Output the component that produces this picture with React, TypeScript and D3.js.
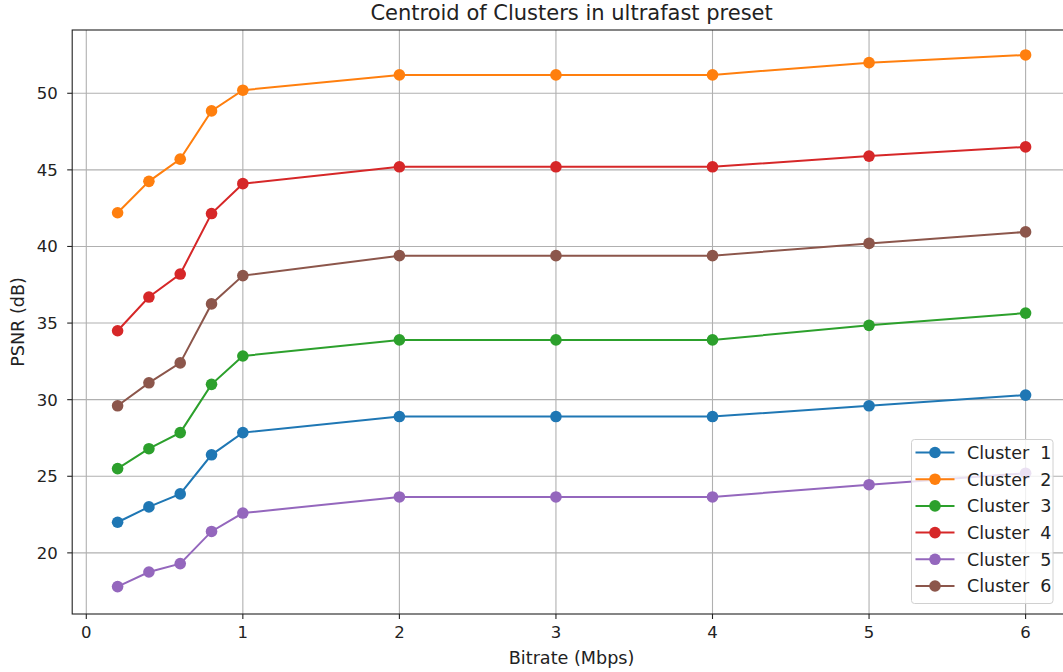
import React from "react";
import * as d3 from "d3";

const bitrates = [0.2, 0.4, 0.6, 0.8, 1, 2, 3, 4, 5, 6];
const seriesNames = ["Cluster  1", "Cluster  2", "Cluster  3", "Cluster  4", "Cluster  5", "Cluster  6"];
const cluster1 = [22.0, 23.0, 23.85, 26.4, 27.85, 28.9, 28.9, 28.9, 29.6, 30.3];
const cluster2 = [42.2, 44.25, 45.7, 48.85, 50.2, 51.2, 51.2, 51.2, 52.0, 52.5];
const cluster3 = [25.5, 26.8, 27.85, 31.0, 32.85, 33.9, 33.9, 33.9, 34.85, 35.65];
const cluster4 = [34.5, 36.7, 38.2, 42.15, 44.1, 45.2, 45.2, 45.2, 45.9, 46.5];
const cluster5 = [17.8, 18.75, 19.3, 21.4, 22.6, 23.65, 23.65, 23.65, 24.45, 25.2];
const cluster6 = [29.6, 31.1, 32.4, 36.25, 38.1, 39.4, 39.4, 39.4, 40.2, 40.95];
const colors = ["#1f77b4", "#ff7f0e", "#2ca02c", "#d62728", "#9467bd", "#8c564b"];
const xTicks = [0, 1, 2, 3, 4, 5, 6];
const yTicks = [20, 25, 30, 35, 40, 45, 50];

const W = 1063;
const H = 672;
const left = 72.2;
const right = 1071;
const top = 30;
const bottom = 614;
const FONT = "DejaVu Sans, sans-serif";

export default function App() {
  const allSeries = [cluster1, cluster2, cluster3, cluster4, cluster5, cluster6];
  const x = d3.scaleLinear().domain([-0.09, 6.29]).range([left, right]);
  const y = d3.scaleLinear().domain([16.01, 54.13]).range([bottom, top]);
  const line = d3
    .line<number>()
    .x((_, i) => x(bitrates[i]))
    .y((d) => y(d));

  const legX = 911.5;
  const legY = 439.5;
  const legW = 141.5;
  const legH = 164;
  const rowH = 26.7;

  return (
    <svg
      width={W}
      height={H}
      style={{ position: "absolute", left: 0, top: 0, background: "#fff" }}
      fontFamily={FONT}
    >
      <defs>
        <clipPath id="plotclip">
          <rect x={left} y={top} width={right - left} height={bottom - top} />
        </clipPath>
      </defs>
      <rect x={0} y={0} width={W} height={H} fill="#fff" />
      {/* grid */}
      {xTicks.map((t) => (
        <line key={"gx" + t} x1={x(t)} x2={x(t)} y1={top} y2={bottom} stroke="#b0b0b0" strokeWidth={1.1} />
      ))}
      {yTicks.map((t) => (
        <line key={"gy" + t} x1={left} x2={right} y1={y(t)} y2={y(t)} stroke="#b0b0b0" strokeWidth={1.1} />
      ))}
      {/* series */}
      <g clipPath="url(#plotclip)">
        {allSeries.map((s, si) => (
          <g key={"s" + si}>
            <path d={line(s) || ""} fill="none" stroke={colors[si]} strokeWidth={2} />
            {s.map((v, i) => (
              <circle key={i} cx={x(bitrates[i])} cy={y(v)} r={5.8} fill={colors[si]} />
            ))}
          </g>
        ))}
      </g>
      {/* spines */}
      <rect x={left} y={top} width={right - left} height={bottom - top} fill="none" stroke="#222" strokeWidth={1.1} />
      {/* ticks */}
      {xTicks.map((t) => (
        <g key={"tx" + t}>
          <line x1={x(t)} x2={x(t)} y1={bottom} y2={bottom + 5} stroke="#222" strokeWidth={1.1} />
          <text x={x(t)} y={632.5} dy="0.36em" textAnchor="middle" fontSize={16.5} fill="#222">
            {t}
          </text>
        </g>
      ))}
      {yTicks.map((t) => (
        <g key={"ty" + t}>
          <line x1={left - 5} x2={left} y1={y(t)} y2={y(t)} stroke="#222" strokeWidth={1.1} />
          <text x={left - 14.5} y={y(t)} dy="0.36em" textAnchor="end" fontSize={16.5} fill="#222">
            {t}
          </text>
        </g>
      ))}
      {/* labels */}
      <text x={(left + right) / 2} y={12} dy="0.36em" textAnchor="middle" fontSize={21} fill="#222">
        Centroid of Clusters in ultrafast preset
      </text>
      <text x={(left + right) / 2} y={658} dy="0.36em" textAnchor="middle" fontSize={17.6} fill="#222">
        Bitrate (Mbps)
      </text>
      <text
        transform={`translate(18,${(top + bottom) / 2}) rotate(-90)`}
        dy="0.36em"
        textAnchor="middle"
        fontSize={17.6}
        fill="#222"
      >
        PSNR (dB)
      </text>
      {/* legend */}
      <rect x={legX} y={legY} width={legW} height={legH} rx={3} fill="#fff" fillOpacity={0.8} stroke="#d0d0d0" strokeWidth={1} />
      {seriesNames.map((n, i) => {
        const cy = legY + 13 + i * rowH;
        return (
          <g key={"l" + i}>
            <line x1={legX + 4} x2={legX + 43} y1={cy} y2={cy} stroke={colors[i]} strokeWidth={2} />
            <circle cx={legX + 23.5} cy={cy} r={5.8} fill={colors[i]} />
            <text x={legX + 55.5} y={cy} dy="0.36em" fontSize={17.5} fill="#222" style={{ whiteSpace: "pre" }}>
              {n}
            </text>
          </g>
        );
      })}
    </svg>
  );
}
